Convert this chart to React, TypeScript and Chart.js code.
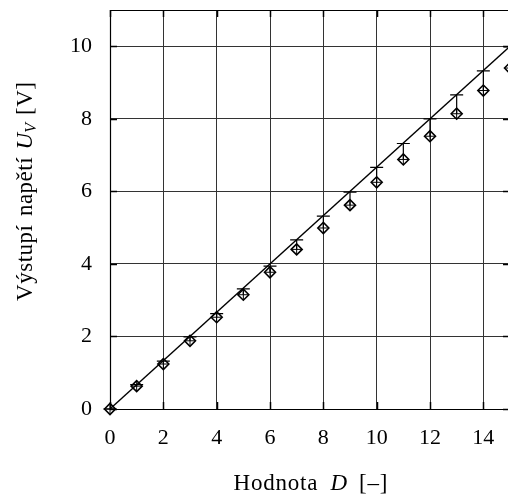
import React, { useEffect, useRef } from "react";
import { Chart, registerables } from "chart.js";

Chart.register(...registerables);

// ---- data ----
const dValues = [0, 1, 2, 3, 4, 5, 6, 7, 8, 9, 10, 11, 12, 13, 14, 15];
const uMeasured = [0, 0.63, 1.24, 1.88, 2.53, 3.15, 3.77, 4.4, 4.99, 5.62, 6.25, 6.88, 7.52, 8.14, 8.78, 9.4];
const uUpper = [0, 0.67, 1.32, 1.99, 2.63, 3.31, 3.94, 4.66, 5.32, 5.98, 6.66, 7.32, 8.0, 8.66, 9.32, 9.98];
const fitX = [0, 15];
const fitY = [0, 10];
const xMin = 0;
const xMax = 15;
const yMin = 0;
const yMax = 11;
const tickStep = 2;

const FONT = '"Liberation Serif", "Times New Roman", serif';
const SIZE = 22;
const TITLE_SIZE = 23;

type Word = [string, string, number?];

function drawWords(
  ctx: CanvasRenderingContext2D,
  words: Word[],
  gaps: number[],
  cx: number,
  baseY: number,
  spacing: number
) {
  (ctx as any).letterSpacing = `${spacing}px`;
  const widths: number[] = [];
  let total = 0;
  words.forEach(([t, f], i) => {
    ctx.font = f;
    const w = ctx.measureText(t).width - spacing;
    widths.push(w);
    total += w + (i < words.length - 1 ? gaps[i] : 0);
  });
  let x = cx - total / 2;
  ctx.textAlign = "left";
  ctx.textBaseline = "alphabetic";
  words.forEach(([t, f, dy], i) => {
    ctx.font = f;
    ctx.fillText(t, x, baseY + (dy || 0));
    x += widths[i] + (i < words.length - 1 ? gaps[i] : 0);
  });
  (ctx as any).letterSpacing = "0px";
}

export default function App() {
  const ref = useRef<HTMLCanvasElement>(null);

  useEffect(() => {
    const canvas = ref.current!;
    const points = dValues.map((x, i) => ({ x, y: uMeasured[i] }));

    const errorBars = {
      id: "errorBars",
      afterDatasetsDraw(chart: any) {
        const { ctx, scales } = chart;
        const xs = scales.x;
        const ys = scales.y;
        ctx.save();
        ctx.strokeStyle = "#000";
        ctx.lineWidth = 1.2;
        dValues.forEach((d, i) => {
          const px = xs.getPixelForValue(d);
          const py = ys.getPixelForValue(uMeasured[i]);
          const pt = ys.getPixelForValue(uUpper[i]);
          ctx.beginPath();
          ctx.moveTo(px, py);
          ctx.lineTo(px, pt);
          ctx.moveTo(px - 6.5, pt);
          ctx.lineTo(px + 6.5, pt);
          ctx.stroke();
        });
        ctx.restore();
      },
    };

    const frame = {
      id: "frame",
      afterDraw(chart: any) {
        const { ctx, chartArea, scales } = chart;
        const { left, right, top, bottom } = chartArea;
        ctx.save();
        ctx.strokeStyle = "#000";
        ctx.lineWidth = 1.2;
        ctx.beginPath();
        ctx.moveTo(right, top + 0.5);
        ctx.lineTo(left + 0.5, top + 0.5);
        ctx.lineTo(left + 0.5, bottom + 0.5);
        ctx.lineTo(right, bottom + 0.5);
        ctx.stroke();
        // inward tick marks
        ctx.lineWidth = 1.5;
        ctx.beginPath();
        scales.x.ticks.forEach((t: any) => {
          const px = Math.round(scales.x.getPixelForValue(t.value)) + 0.5;
          ctx.moveTo(px, bottom);
          ctx.lineTo(px, bottom - 7);
          ctx.moveTo(px, top);
          ctx.lineTo(px, top + 7);
        });
        scales.y.ticks.forEach((t: any) => {
          const py = Math.round(scales.y.getPixelForValue(t.value)) + 0.5;
          ctx.moveTo(left, py);
          ctx.lineTo(left + 7, py);
          ctx.moveTo(right, py);
          ctx.lineTo(right - 7, py);
        });
        ctx.stroke();

        // axis titles
        ctx.fillStyle = "#000";
        const n = `${TITLE_SIZE}px ${FONT}`;
        const it = `italic ${TITLE_SIZE}px ${FONT}`;
        const sub = `italic 16px ${FONT}`;
        drawWords(ctx, [["Hodnota", n], ["D", it], ["[–]", n]], [13, 12], 310.5, 490, 0.8);
        ctx.save();
        ctx.translate(32, 191.5);
        ctx.rotate(-Math.PI / 2);
        drawWords(
          ctx,
          [["Výstupí", n], ["napětí", n], ["U", it], ["V", sub, 4], ["[V]", n]],
          [9, 8, 0, 8],
          0,
          0,
          0.5
        );
        ctx.restore();
        ctx.restore();
      },
    };

    const fitAxis = (w?: number, h?: number) => (s: any) => {
      if (w !== undefined) s.width = w;
      if (h !== undefined) s.height = h;
      s.paddingTop = 0;
      s.paddingBottom = 0;
      s.paddingLeft = 0;
      s.paddingRight = 0;
    };

    const chart = new Chart(canvas, {
      type: "scatter",
      data: {
        datasets: [
          {
            type: "line",
            data: fitX.map((x, i) => ({ x, y: fitY[i] })),
            borderColor: "#000",
            borderWidth: 1.3,
            pointRadius: 0,
            fill: false,
            tension: 0,
          } as any,
          {
            data: points,
            pointStyle: "rectRot",
            pointRadius: 5.5,
            borderColor: "#000",
            borderWidth: 1.6,
            backgroundColor: "rgba(0,0,0,0)",
            clip: false,
          },
          {
            data: points,
            pointStyle: "cross",
            pointRadius: 5,
            borderColor: "#000",
            borderWidth: 1,
            clip: false,
          },
        ],
      },
      options: {
        animation: false,
        responsive: false,
        maintainAspectRatio: false,
        devicePixelRatio: 1,
        layout: { padding: { top: 10, right: 10, left: 0, bottom: 0 } },
        plugins: { legend: { display: false }, tooltip: { enabled: false } },
        scales: {
          x: {
            type: "linear",
            min: xMin,
            max: xMax,
            ticks: {
              stepSize: tickStep,
              includeBounds: false,
              color: "#000",
              font: { family: FONT, size: SIZE },
              padding: 16,
              maxRotation: 0,
            },
            grid: { color: "#333", lineWidth: 1, drawTicks: false },
            border: { display: false },
            afterFit: fitAxis(undefined, 90),
          },
          y: {
            type: "linear",
            min: yMin,
            max: yMax,
            ticks: {
              stepSize: tickStep,
              includeBounds: false,
              color: "#000",
              font: { family: FONT, size: SIZE },
              padding: 18,
            },
            grid: { color: "#333", lineWidth: 1, drawTicks: false },
            border: { display: false },
            afterFit: fitAxis(110, undefined),
          },
        },
      },
      plugins: [errorBars, frame],
    } as any);

    return () => chart.destroy();
  }, []);

  return (
    <div
      style={{
        position: "fixed",
        left: 0,
        top: 0,
        width: 508,
        height: 499,
        overflow: "hidden",
        background: "#fff",
      }}
    >
      <canvas ref={ref} width={520} height={499} style={{ display: "block", width: 520, height: 499 }} />
    </div>
  );
}
